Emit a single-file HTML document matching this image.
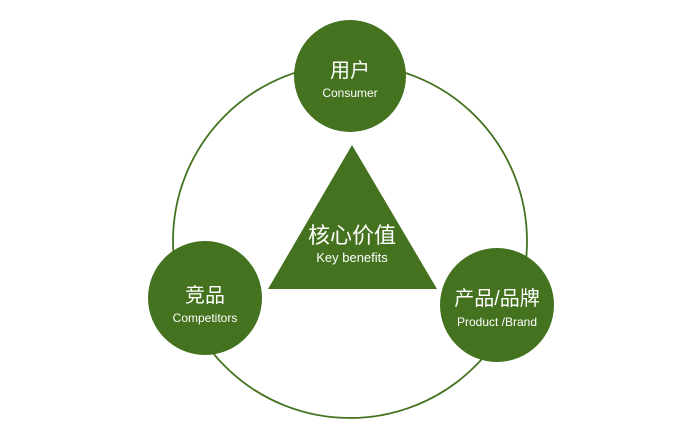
<!DOCTYPE html>
<html><head><meta charset="utf-8"><style>
html,body{margin:0;padding:0;background:#fff;width:700px;height:438px;overflow:hidden}
</style></head><body>
<svg width="700" height="438" xmlns="http://www.w3.org/2000/svg" font-family="'Liberation Sans','Noto Sans CJK SC',sans-serif" fill="#fff" text-anchor="middle">
<circle cx="350" cy="241" r="177" fill="none" stroke="#44721f" stroke-width="1.8"/>
<circle cx="350" cy="76" r="56" fill="#44721f"/>
<circle cx="205" cy="298" r="57" fill="#44721f"/>
<circle cx="497" cy="305" r="57" fill="#44721f"/>
<polygon points="352,145 268,289 437,289" fill="#44721f"/>
<text x="350" y="77" font-size="20" fill="#fff">用户</text>
<text x="350" y="97" font-size="12" fill="#fff">Consumer</text>
<text x="352" y="243" font-size="22" fill="#fff">核心价值</text>
<text x="352" y="262" font-size="13" fill="#fff">Key benefits</text>
<text x="205" y="302" font-size="20" fill="#fff">竞品</text>
<text x="205" y="322" font-size="12" fill="#fff">Competitors</text>
<text x="497" y="305" font-size="20" fill="#fff">产品/品牌</text>
<text x="497" y="326" font-size="12" fill="#fff">Product /Brand</text>
</svg>
</body></html>
